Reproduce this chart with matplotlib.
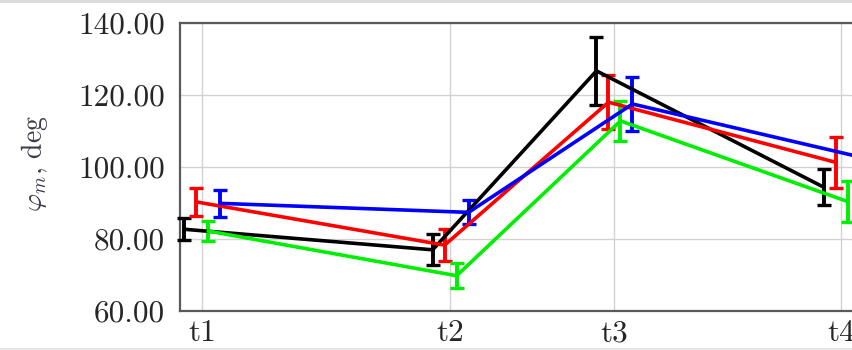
import matplotlib
matplotlib.use("Agg")
import matplotlib.pyplot as plt
import matplotlib.transforms as mtransforms
from matplotlib.patches import Rectangle
from matplotlib.ticker import FormatStrFormatter

plt.rcParams["font.family"] = ["cmr10", "DejaVu Serif"]
plt.rcParams["mathtext.fontset"] = "cm"
plt.rcParams["axes.formatter.use_mathtext"] = True

# Measurement times (uneven spacing) and their labels
time_pos = [0.0, 1.0, 1.66, 2.575]
time_labels = ["t1", "t2", "t3", "t4"]

# Mean angle and standard error per group
black_mean = [82.7, 77.0, 126.7, 94.4]
black_err = [3.0, 4.3, 9.5, 5.0]
red_mean = [90.3, 78.3, 118.0, 101.3]
red_err = [3.8, 4.5, 7.5, 7.0]
green_mean = [82.2, 69.8, 112.8, 90.4]
green_err = [2.8, 3.5, 5.5, 5.8]
blue_mean = [89.9, 87.4, 117.5, 102.8]
blue_err = [3.8, 3.3, 7.5, 6.0]

y_ticks = [60, 80, 100, 120, 140]

W, H, DPI = 853, 350, 100
fig = plt.figure(figsize=(W / DPI, H / DPI), dpi=DPI)

# axes box in pixels: left 180, top 23, bottom 311, right edge past the figure
left, right, top, bottom = 180, 866, 23, 311
ax = fig.add_axes([left / W, (H - bottom) / H, (right - left) / W, (bottom - top) / H])

ax.set_xlim(-0.088, 2.675)
ax.set_ylim(60, 140)
ax.set_xticks(time_pos)
ax.set_xticklabels(time_labels)
ax.set_yticks(y_ticks)
ax.yaxis.set_major_formatter(FormatStrFormatter("%.2f"))
ax.grid(True, color="#d2d2d2", linewidth=1.0)
ax.set_axisbelow(True)
for sp in ax.spines.values():
    sp.set_color("#5a5a5a")
    sp.set_linewidth(1.6)
ax.tick_params(axis="both", length=0, labelsize=22.5, colors="#262626")
ax.tick_params(axis="y", pad=11)
ax.tick_params(axis="x", pad=6)

series = [
    (black_mean, black_err, "#000000", -17.5),
    (red_mean, red_err, "#ff0000", -5.5),
    (green_mean, green_err, "#00ee00", 6.5),
    (blue_mean, blue_err, "#0000ff", 18.5),
]
for mean, err, color, dx in series:
    shift = mtransforms.ScaledTranslation(dx / DPI, 0, fig.dpi_scale_trans)
    ax.errorbar(time_pos, mean, yerr=err, color=color, linewidth=2.6,
                elinewidth=2.8, capsize=5, capthick=2.4,
                transform=ax.transData + shift, clip_on=False, zorder=3)

fig.text(35 / W, 1 - 163 / H, r"$\varphi_m$, deg", rotation=90,
         ha="center", va="center", fontsize=20, color="#3a3a48")

# light shading along the top and bottom edges
fig.add_artist(Rectangle((0, 1 - 3 / H), 1, 3 / H, transform=fig.transFigure,
                         facecolor="#dcdcdc", edgecolor="none"))
fig.add_artist(Rectangle((0, 0), 1, 2 / H, transform=fig.transFigure,
                         facecolor="#e6e6e6", edgecolor="none"))

fig.savefig("out.png", dpi=DPI)
